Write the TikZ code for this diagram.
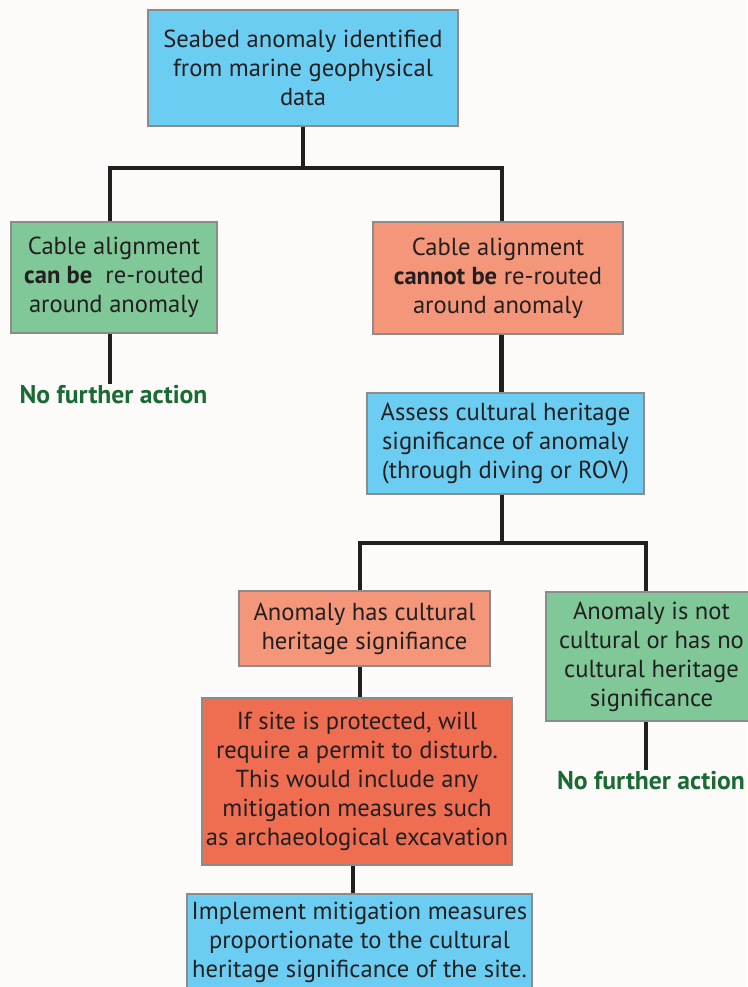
\documentclass[tikz,border=0pt]{standalone}
\usepackage{fontspec}
\setmainfont{PT Sans}
\definecolor{paper}{RGB}{252,251,250}
\definecolor{ink}{RGB}{35,31,32}
\definecolor{boxgray}{RGB}{140,140,140}
\definecolor{seablue}{RGB}{108,205,242}
\definecolor{okgreen}{RGB}{128,200,152}
\definecolor{warnsalmon}{RGB}{244,150,122}
\definecolor{alertred}{RGB}{239,110,82}
\definecolor{actgreen}{RGB}{26,106,52}
\begin{document}
\begin{tikzpicture}[
		box/.style={draw=boxgray,line width=1.1pt,align=center,inner sep=0pt,text=ink,font=\fontsize{14}{16.5}\selectfont},
		link/.style={line width=2.3pt,draw=ink},
		noaction/.style={inner sep=1pt,text=actgreen,font=\fontsize{14.6}{16.5}\selectfont\bfseries}]
			\useasboundingbox (0,0) rectangle (14.94,-19.74);
			\fill[paper] (0,0) rectangle (14.94,-19.74);% background

			% boxes
			\node[box,fill=seablue,minimum width=6.2cm,minimum height=2.32cm] (seabed) at (6.06,-1.36) {Seabed anomaly identified\\from marine geophysical\\data};
			\node[box,fill=okgreen,minimum width=4.12cm,minimum height=2.22cm] (canroute) at (2.28,-5.55) {Cable alignment\\\textbf{can be}\ \ re-routed\\around anomaly};
			\node[box,fill=warnsalmon,minimum width=5.0cm,minimum height=2.24cm] (cannotroute) at (9.96,-5.56) {Cable alignment\\\textbf{cannot be} re-routed\\around anomaly};
			\node[box,fill=seablue,minimum width=5.54cm,minimum height=2.02cm] (assess) at (10.11,-8.87) {Assess cultural heritage\\significance of anomaly\\(through diving or ROV)};
			\node[box,fill=warnsalmon,minimum width=5.02cm,minimum height=1.5cm] (hassig) at (7.29,-12.57) {Anomaly has cultural\\heritage signifiance};
			\node[box,fill=okgreen,minimum width=4.22cm,minimum height=2.58cm] (nosig) at (13.03,-13.13) {Anomaly is not\\cultural or has no\\cultural heritage\\significance};
			\node[box,fill=alertred,minimum width=6.2cm,minimum height=3.34cm] (permit) at (7.14,-15.63) {If site is protected, will\\require a permit to disturb.\\This would include any\\mitigation measures such\\as archaeological excavation};
			\node[box,fill=seablue,minimum width=6.9cm,minimum height=1.92cm] (mitigate) at (7.19,-18.84) {Implement mitigation measures\\proportionate to the cultural\\heritage significance of the site.};

			% end points
			\node[noaction] (stopleft) at (2.27,-7.9) {No further action};
			\node[noaction] (stopright) at (13.02,-15.62) {No further action};

			% forks
			\coordinate (forktop) at (6.06,-3.36);
			\coordinate (forkmid) at (10.04,-10.86);

			\draw[link] (seabed.south) -- (forktop);
			\draw[link] ([xshift=-0.08cm]canroute.north) |- (forktop) -| ([xshift=0.08cm]cannotroute.north);
			\draw[link] ([xshift=-0.08cm]canroute.south) -- ([xshift=-0.08cm]canroute.south |- stopleft.north);
			\draw[link] ([xshift=0.07cm]cannotroute.south) -- ([xshift=0.07cm]cannotroute.south |- assess.north);
			\draw[link] (assess.south -| forkmid) -- (forkmid);
			\draw[link] ([xshift=-0.09cm]hassig.north) |- (forkmid) -| ([xshift=-0.11cm]nosig.north);
			\draw[link] ([xshift=-0.11cm]nosig.south) -- ([xshift=-0.11cm]nosig.south |- stopright.north);
			\draw[link] ([xshift=-0.09cm]hassig.south) -- ([xshift=-0.09cm]hassig.south |- permit.north);
			\draw[link] ([xshift=-0.08cm]permit.south) -- ([xshift=-0.08cm]permit.south |- mitigate.north);
		\end{tikzpicture}
\end{document}
